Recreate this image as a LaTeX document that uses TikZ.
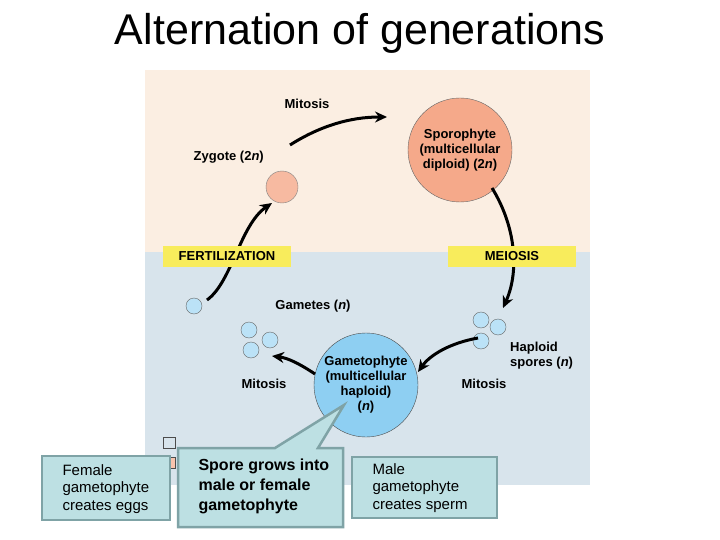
\documentclass[tikz,border=0pt]{standalone}
\usepackage{fontspec}
\setmainfont{Liberation Sans}
\usetikzlibrary{arrows.meta}
\definecolor{peach}{HTML}{FBEEE2}
\definecolor{pblue}{HTML}{D8E4EC}
\definecolor{salmon}{HTML}{F5A98A}
\definecolor{cellb}{HTML}{8ECFF2}
\definecolor{ylw}{HTML}{F8EC5C}
\definecolor{call}{HTML}{BDE0E3}
\definecolor{callb}{HTML}{7FA3A6}
\begin{document}
\begin{tikzpicture}[x=1pt,y=-1pt,
  lbl/.style={font=\bfseries\fontsize{13}{15}\selectfont,align=center,inner sep=1pt},
  cyc/.style={line width=3pt,-{Stealth[length=12pt,width=11pt]}},
  yb/.style={fill=ylw,minimum width=128pt,minimum height=21pt,font=\bfseries\fontsize{13}{14}\selectfont},
  cb/.style={fill=call,draw=callb,line width=2.5pt,align=left,inner sep=0pt},
  small/.style={circle,fill=cellb!60,draw=black!60,minimum size=16pt,inner sep=0pt}]
\useasboundingbox (0,0) rectangle (720,540);
\fill[white] (0,0) rectangle (720,540);
\node (title) at (360,33) {\fontsize{43}{46}\selectfont Alternation of generations};
\fill[peach] (145,70) rectangle (590,252);
\fill[pblue] (145,252) rectangle (590,485);
% cells
\node[circle,fill=salmon,draw=black!60,minimum size=104pt] (spo) at (460,150) {};
\node[lbl] at (460,150) {Sporophyte\\(multicellular\\diploid) (2\textit{n})};
\node[circle,fill=salmon!80,draw=black!50,minimum size=32pt,inner sep=0pt] (zyg) at (282,187) {};
\node[lbl,anchor=east] at (265,157) {Zygote (2\textit{n})};
\node[circle,fill=cellb,draw=black!70,minimum size=104pt] (gam) at (366,385) {};
\node[lbl] at (366,385) {Gametophyte\\(multicellular\\haploid)\\(\textit{n})};
% spores and gametes
\node[small] (s1) at (481,320) {};
\node[small] (s2) at (498,327) {};
\node[small] (s3) at (481,341) {};
\node[small] (g0) at (194,306) {};
\node[small] (g1) at (249,330) {};
\node[small] (g2) at (270,340) {};
\node[small] (g3) at (251,350) {};
% labels
\node[lbl] at (307,104) {Mitosis};
\node[lbl] at (313,306) {Gametes (\textit{n})};
\node[lbl,align=left,anchor=west] at (509,356) {Haploid\\spores (\textit{n})};
\node[lbl] at (484,384) {Mitosis};
\node[lbl] at (264,384) {Mitosis};
% arrows
\coordinate (a1) at (290,145); \coordinate (a2) at (387,117);
\draw[cyc] (a1) .. controls (320,126) and (350,117) .. (a2);
\coordinate (b1) at (492,188); \coordinate (b2) at (503,308);
\draw[cyc] (b1) .. controls (515,225) and (520,270) .. (b2);
\coordinate (c1) at (478,338); \coordinate (c2) at (418,372);
\draw[cyc] (c1) .. controls (450,343) and (430,355) .. (c2);
\coordinate (d1) at (315,374); \coordinate (d2) at (272,356);
\draw[cyc] (d1) .. controls (300,364) and (288,358) .. (d2);
\coordinate (e1) at (207,300); \coordinate (e2) at (272,203);
\draw[cyc] (e1) .. controls (232,282) and (240,225) .. (e2);
\node[yb] (fert) at (227,256) {FERTILIZATION};
\node[yb] (mei) at (512,256) {MEIOSIS};
% legend squares
\draw[fill=pblue,draw=black!70,line width=0.8pt] (163,437) rectangle (175,448);
\draw[fill=salmon!70,draw=black!70,line width=0.8pt] (163,457) rectangle (175,468);
% callouts
\draw[cb] (42,456) rectangle (170,520);
\node[anchor=north west,align=left,font=\fontsize{15}{17.5}\selectfont] at (59,461) {Female\\gametophyte\\creates eggs};
\draw[cb] (352,457) rectangle (497,518);
\node[anchor=north west,align=left,font=\fontsize{15}{17.5}\selectfont] at (369,460) {Male\\gametophyte\\creates sperm};
\coordinate (tip) at (344,405);
\draw[cb] (178,448) -- (275,448) -- (tip) -- (318,448) -- (343,448) -- (343,527) -- (178,527) -- cycle;
\node[anchor=north west,align=left,font=\bfseries\fontsize{16}{20}\selectfont] at (195,455) {Spore grows into\\male or female\\gametophyte};
\end{tikzpicture}
\end{document}
